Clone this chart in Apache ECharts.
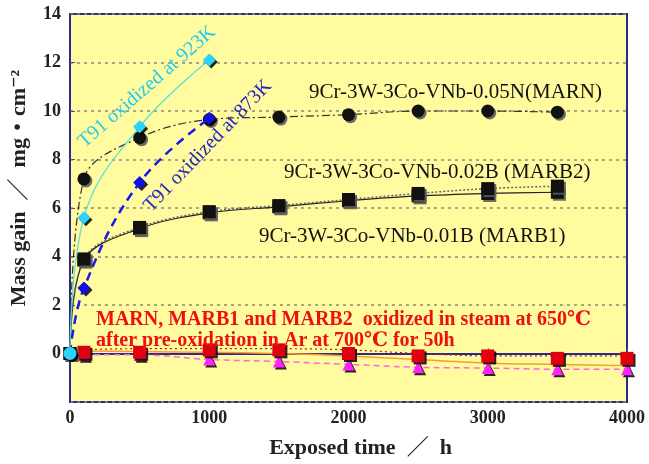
<!DOCTYPE html>
<html>
<head>
<meta charset="utf-8">
<script src="https://cdn.jsdelivr.net/npm/echarts@6/dist/echarts.min.js"></script>
<style>
  html, body { margin: 0; padding: 0; background: #ffffff; }
  #chart { width: 649px; height: 464px; }
</style>
</head>
<body>
<div id="chart"></div>
<script>
// Exposure times (h)
const timesT91 = [0, 100, 500, 1000];
const timesSteel = [0, 100, 500, 1000, 1500, 2000, 2500, 3000, 3500];
const timesPre = [100, 500, 1000, 1500, 2000, 2500, 3000, 3500, 4000];
const timesPreFit = [0, 500, 1000, 1500, 2000, 2500, 3000, 3500, 4000];

// Mass gain (mg/cm2)
const t91_923K = [0, 5.6, 9.35, 12.1];
const t91_873K = [0, 2.7, 7.05, 9.7];
const marn = [0, 7.2, 8.9, 9.65, 9.75, 9.85, 10.0, 10.0, 9.95];
const marb2 = [0, 3.9, 5.2, 5.85, 6.1, 6.35, 6.6, 6.8, 6.9];
const marb1 = [0, 3.85, 5.15, 5.8, 6.05, 6.3, 6.5, 6.6, 6.65];

// Pre-oxidised specimens in steam
const preSquares = [0.05, 0.05, 0.15, 0.15, 0.0, -0.1, -0.1, -0.2, -0.2];
const preTriangles = [-0.05, -0.05, -0.25, -0.33, -0.45, -0.57, -0.6, -0.65, -0.65];
const preFitOrange = [0.1, 0.08, 0.05, 0.0, -0.1, -0.25, -0.4, -0.45, -0.5];
const preFitRed = [0.15, 0.2, 0.2, 0.2, 0.15, 0.0, -0.1, -0.1, -0.1];

// Axis ticks
const yTicks = { min: -2, max: 14, interval: 2 };
const xTicks = { min: 0, max: 4000, interval: 1000 };

const pairs = (xs, ys) => xs.map((x, i) => [x, ys[i]]);

const serif = '"Liberation Serif", "DejaVu Serif", "Noto Sans CJK JP", serif';
const frame = '#2b2b8c';
const shadow = { shadowColor: 'rgba(0,0,0,0.85)', shadowBlur: 0, shadowOffsetX: 2, shadowOffsetY: 2 };
const noShadow = { shadowBlur: 0, shadowOffsetX: 0, shadowOffsetY: 0, shadowColor: 'transparent' };

const chart = echarts.init(document.getElementById('chart'), null, { renderer: 'canvas' });

chart.setOption({
  animation: false,
  backgroundColor: '#ffffff',
  grid: {
    left: 68, right: 22, top: 14, bottom: 57,
    show: true, backgroundColor: '#fffb9e', borderColor: frame, borderWidth: 2
  },
  xAxis: {
    type: 'value', min: xTicks.min, max: xTicks.max, interval: xTicks.interval,
    name: 'Exposed time  ／  h', nameLocation: 'middle', nameGap: 35,
    nameTextStyle: { fontFamily: serif, fontSize: 22, fontWeight: 'bold', color: '#222', padding: [0, 0, 0, 24] },
    axisLine: { lineStyle: { color: frame, width: 2 } },
    axisTick: { inside: true, length: 5, lineStyle: { color: '#555' } },
    axisLabel: { fontFamily: serif, fontSize: 18, fontWeight: 'bold', color: '#222', margin: 7, formatter: v => String(v) },
    splitLine: { show: false }
  },
  yAxis: {
    type: 'value', min: yTicks.min, max: yTicks.max, interval: yTicks.interval,
    name: 'Mass gain  ／  mg・cm⁻²', nameLocation: 'middle', nameGap: 40, nameRotate: 90,
    nameTextStyle: { fontFamily: serif, fontSize: 22, fontWeight: 'bold', color: '#222', padding: [0, 0, 0, 40] },
    axisLine: { lineStyle: { color: frame, width: 2 } },
    axisTick: { inside: true, length: 5, lineStyle: { color: '#555' } },
    axisLabel: { fontFamily: serif, fontSize: 18, fontWeight: 'bold', color: '#222', margin: 9, showMinLabel: false },
    splitLine: { show: true, lineStyle: { color: '#8a8a7a', type: [3, 4], width: 1.5 } }
  },
  series: [
    // pre-oxidised fits and markers
    {
      type: 'line', data: pairs(timesPreFit, preFitOrange), smooth: 0.3, symbol: 'none',
      lineStyle: { color: '#ff9a30', width: 1.5 }, z: 2
    },
    {
      type: 'line', data: pairs(timesPreFit, preFitRed), smooth: 0.3, symbol: 'none',
      lineStyle: { color: '#b0202a', width: 1.2, type: [2, 3] }, z: 2
    },
    {
      type: 'line', data: pairs(timesPre, preTriangles), smooth: 0.3,
      symbol: 'triangle', symbolSize: 12,
      itemStyle: Object.assign({ color: '#ff22ff' }, shadow),
      lineStyle: Object.assign({ color: '#ff66dd', width: 1.5, type: [6, 4] }, noShadow), z: 3
    },
    {
      type: 'line', data: pairs(timesPre, preSquares), smooth: 0.3,
      symbol: 'rect', symbolSize: 13,
      itemStyle: Object.assign({ color: '#e00010' }, shadow),
      lineStyle: { width: 0 }, z: 4
    },
    // MARB1 and MARB2
    {
      type: 'line', data: pairs(timesSteel, marb1), smooth: 0.35,
      symbol: 'rect', symbolSize: 13,
      itemStyle: { color: '#111', shadowColor: 'rgba(90,90,90,0.9)', shadowBlur: 0, shadowOffsetX: 2, shadowOffsetY: 2 },
      lineStyle: Object.assign({ color: '#222', width: 1.2 }, noShadow), z: 5
    },
    {
      type: 'line', data: pairs(timesSteel, marb2), smooth: 0.35,
      symbol: 'rect', symbolSize: 13,
      itemStyle: { color: '#111', shadowColor: 'rgba(90,90,90,0.9)', shadowBlur: 0, shadowOffsetX: 2, shadowOffsetY: 2 },
      lineStyle: Object.assign({ color: '#666', width: 1.5, type: [2, 2] }, noShadow), z: 5
    },
    // MARN
    {
      type: 'line', data: pairs(timesSteel, marn), smooth: 0.35,
      symbol: 'circle', symbolSize: 13,
      itemStyle: { color: '#111', shadowColor: 'rgba(90,90,90,0.9)', shadowBlur: 0, shadowOffsetX: 2, shadowOffsetY: 2 },
      lineStyle: Object.assign({ color: '#333', width: 1.2, type: [8, 3, 2, 3] }, noShadow), z: 5
    },
    // T91 873K
    {
      type: 'line', data: pairs(timesT91, t91_873K), smooth: 0.4,
      symbol: 'diamond', symbolSize: 13,
      itemStyle: Object.assign({ color: '#1010e0' }, shadow),
      lineStyle: Object.assign({ color: '#1a1ae6', width: 2.5, type: [9, 6] }, noShadow), z: 6
    },
    // T91 923K
    {
      type: 'line', smooth: 0.4,
      data: pairs(timesT91, t91_923K).map((p, i) => i === 0 ? { value: p, symbol: 'circle' } : p),
      symbol: 'diamond', symbolSize: 13,
      itemStyle: Object.assign({ color: '#2ad4ff' }, shadow),
      lineStyle: Object.assign({ color: '#55e0d8', width: 1.2 }, noShadow), z: 7
    }
  ],
  graphic: [
    {
      type: 'text', x: 147, y: 87, rotation: 41 * Math.PI / 180, z: 20,
      style: { text: 'T91 oxidized at 923K', fill: '#22ccee', font: '20px ' + serif, align: 'center', verticalAlign: 'middle' }
    },
    {
      type: 'text', x: 208, y: 146, rotation: 46 * Math.PI / 180, z: 20,
      style: { text: 'T91 oxidized at 873K', fill: '#2525c0', font: '20px ' + serif, align: 'center', verticalAlign: 'middle' }
    },
    {
      type: 'text', x: 309, y: 92, z: 20,
      style: { text: '9Cr-3W-3Co-VNb-0.05N(MARN)', fill: '#111', font: '21px ' + serif, align: 'left', verticalAlign: 'middle' }
    },
    {
      type: 'text', x: 284, y: 172, z: 20,
      style: { text: '9Cr-3W-3Co-VNb-0.02B (MARB2)', fill: '#111', font: '21px ' + serif, align: 'left', verticalAlign: 'middle' }
    },
    {
      type: 'text', x: 259, y: 236, z: 20,
      style: { text: '9Cr-3W-3Co-VNb-0.01B (MARB1)', fill: '#111', font: '21px ' + serif, align: 'left', verticalAlign: 'middle' }
    },
    {
      type: 'text', x: 96, y: 320, z: 20,
      style: { text: 'MARN, MARB1 and MARB2  oxidized in steam at 650℃', fill: '#ee1010', font: 'bold 20px ' + serif, align: 'left', verticalAlign: 'middle' }
    },
    {
      type: 'text', x: 96, y: 341, z: 20,
      style: { text: 'after pre-oxidation in Ar at 700℃ for 50h', fill: '#ee1010', font: 'bold 20px ' + serif, align: 'left', verticalAlign: 'middle' }
    }
  ]
});
</script>
</body>
</html>
